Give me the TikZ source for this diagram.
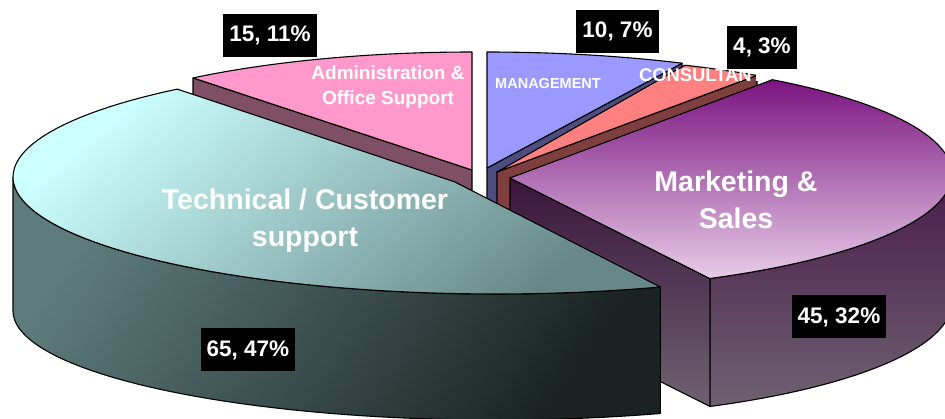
\documentclass[tikz,border=0pt]{standalone}
\usepackage{fontspec}
\setmainfont{Liberation Sans}
\definecolor{admPink}{HTML}{FF99CC}
\definecolor{admSide}{HTML}{7F4F66}
\definecolor{mgtBlue}{HTML}{9999FF}
\definecolor{mgtSide}{HTML}{4D4D80}
\definecolor{conRed}{HTML}{FF8080}
\definecolor{conSide}{HTML}{803F3F}
\definecolor{mktTop}{HTML}{7A1480}
\definecolor{mktLow}{HTML}{E8CCE8}
\definecolor{mktSideTop}{HTML}{4A1A4C}
\definecolor{mktSideLow}{HTML}{6E6270}
\definecolor{tecLight}{HTML}{CCFFFF}
\definecolor{tecDark}{HTML}{688888}
\definecolor{tecSideL}{HTML}{5E7C7C}
\definecolor{tecSideD}{HTML}{1A2222}
\begin{document}
\begin{tikzpicture}[x=1pt, y=-1pt, line width=1.1pt, line join=round,
  valbox/.style={fill=black, text=white, font=\fontsize{22.5}{22.5}\selectfont\bfseries, inner xsep=6pt, minimum height=43pt},
  biglbl/.style={text=white, font=\fontsize{28.5}{37}\selectfont\bfseries, align=center},
  midlbl/.style={text=white, font=\fontsize{19}{25}\selectfont\bfseries, align=center}]
\useasboundingbox (0,0) rectangle (945,419);
\clip (0,0) rectangle (945,419);

\coordinate (admC) at (472,170);
\filldraw[fill=admSide] (193,78) -- (admC) -- ++(0,128) -- (193,206) -- cycle;
\filldraw[fill=admPink] (admC) -- plot[domain=-128.7:-90, samples=30] ({472+446*cos(\x)},{170+118*sin(\x)}) -- cycle;
\node (admLbl) [midlbl] at (388,87.5) {Administration \&\\Office Support};

\coordinate (mgtC) at (487,168);
\filldraw[fill=mgtSide] (mgtC) -- (682,63.2) -- ++(0,128) -- (487,296) -- cycle;
\filldraw[fill=mgtBlue] (mgtC) -- plot[domain=-90:-64.6, samples=20] ({487+455*cos(\x)},{168+116*sin(\x)}) -- cycle;
\node (mgtLbl) [text=white, font=\fontsize{14.5}{14.5}\selectfont\bfseries] at (548,83.5) {MANAGEMENT};

\coordinate (conC) at (497,172);
\filldraw[fill=conSide] (conC) -- (757,75.5) -- ++(0,128) -- (497,300) -- cycle;
\filldraw[fill=conRed] (conC) -- plot[domain=-65.9:-55.6, samples=10] ({497+460*cos(\x)},{172+117*sin(\x)}) -- cycle;
\node (conLbl) [text=white, font=\fontsize{18.4}{18.4}\selectfont\bfseries] at (701,75) {CONSULTANT};

\coordinate (mktC) at (510,178);
\shadedraw[top color=mktSideTop, bottom color=mktSideLow] plot[domain=0:63.3, samples=40] ({512+440*cos(\x)},{174+117*sin(\x)}) -- plot[domain=63.3:0, samples=40] ({512+440*cos(\x)},{302+117*sin(\x)}) -- cycle;
\shadedraw[top color=mktSideTop!80!black, bottom color=mktSideLow] (mktC) -- (710,278.5) -- ++(0,128) -- (510,306) -- cycle;
\shadedraw[top color=mktTop, bottom color=mktLow] (mktC) -- plot[domain=-53.7:63.3, samples=60] ({512+440*cos(\x)},{174+117*sin(\x)}) -- cycle;
\node (mktLbl) [biglbl] at (736,199.5) {Marketing \&\\Sales};

\coordinate (tecC) at (455,182);
\shadedraw[top color=tecSideL, bottom color=tecSideD, shading angle=55] plot[domain=70.1:180, samples=50] ({496+483*cos(\x)},{177+117*sin(\x)}) -- plot[domain=180:70.1, samples=50] ({496+483*cos(\x)},{311+109*sin(\x)}) -- cycle;
\shadedraw[top color=tecLight, bottom color=tecDark, shading angle=40] (tecC) -- plot[domain=228.7:70.1, samples=80] ({496+483*cos(\x)},{177+117*sin(\x)}) -- cycle;
\node (tecLbl) [biglbl] at (305,220.5) {Technical / Customer\\support};

\node (v15) [valbox] at (270,35.5) {15, 11\%};
\node (v10) [valbox] at (617.5,31.5) {10, 7\%};
\node (v4) [valbox] at (762,47.5) {4, 3\%};
\node (v45) [valbox] at (839,317) {45, 32\%};
\node (v65) [valbox] at (248,350) {65, 47\%};
\end{tikzpicture}
\end{document}
